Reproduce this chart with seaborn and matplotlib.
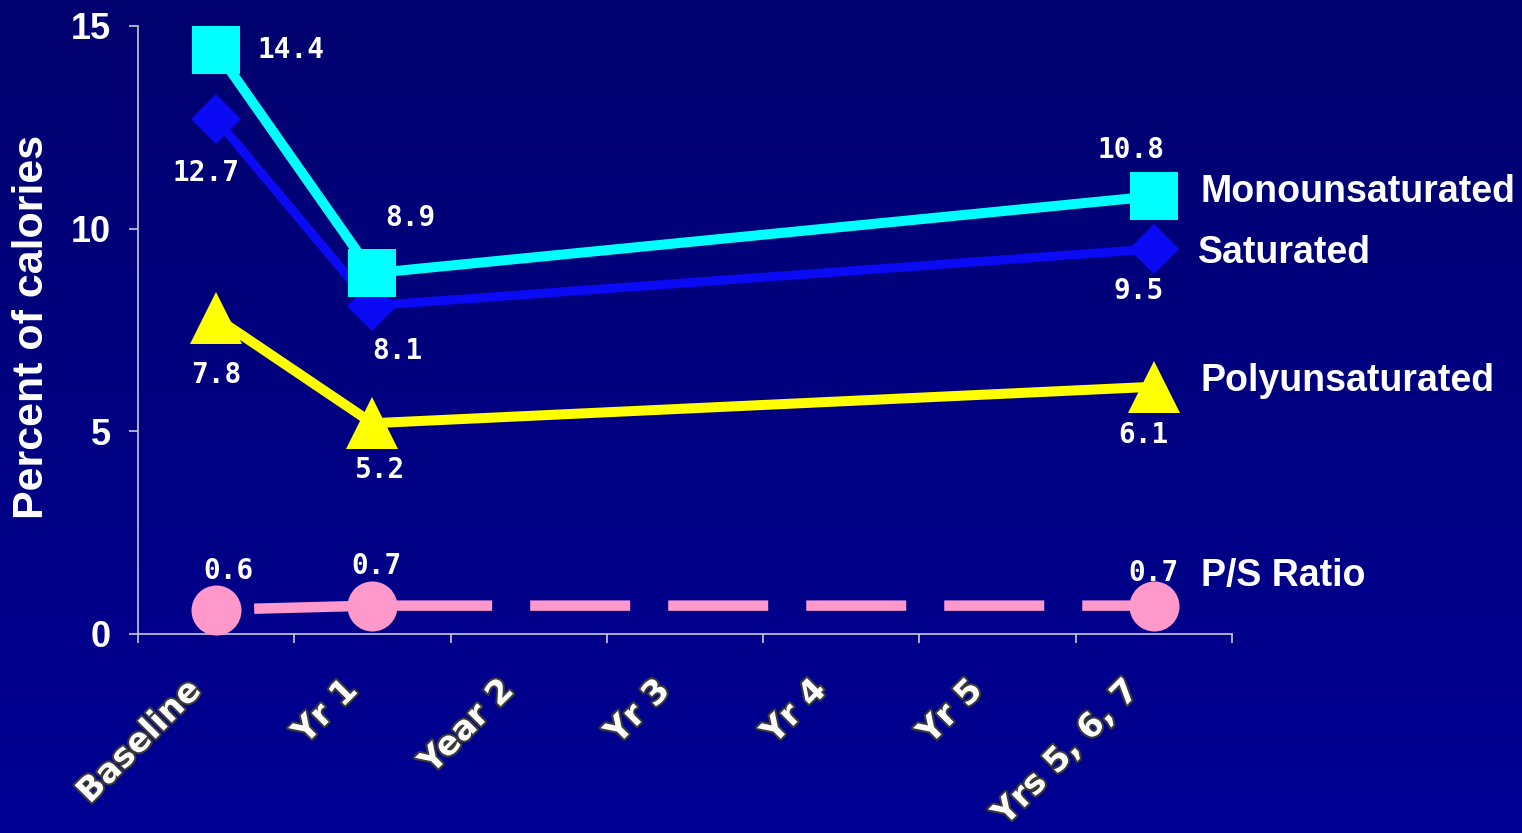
import numpy as np
import pandas as pd
import matplotlib
matplotlib.use("Agg")
import matplotlib.pyplot as plt
import matplotlib.patheffects as pe
from matplotlib.colors import LinearSegmentedColormap
from matplotlib.transforms import ScaledTranslation
import seaborn as sns

# ---- data -------------------------------------------------------------
periods = ["Baseline", "Yr 1", "Year 2", "Yr 3", "Yr 4", "Yr 5", "Yrs 5, 6, 7"]
measured_at = ["Baseline", "Yr 1", "Yrs 5, 6, 7"]
monounsaturated = [14.4, 8.9, 10.8]
saturated = [12.7, 8.1, 9.5]
polyunsaturated = [7.8, 5.2, 6.1]
ps_ratio = [0.6, 0.7, 0.7]
y_ticks = [0, 5, 10, 15]

series_values = {
    "P/S Ratio": ps_ratio,
    "Polyunsaturated": polyunsaturated,
    "Saturated": saturated,
    "Monounsaturated": monounsaturated,
}

rows = []
for name, vals in series_values.items():
    for period, v in zip(measured_at, vals):
        rows.append({"series": name, "period": period,
                     "pos": periods.index(period), "value": v})
df = pd.DataFrame(rows)

# ---- styling ----------------------------------------------------------
PX = 0.72  # points per pixel at 100 dpi

styles = {
    "P/S Ratio": dict(color="#FF99CC", marker="o", ms=36, lw=7.5,
                      ls=(9.6, (9.6, 3.65)), z=3,
                      offsets=[(12, -39), (4, -40), (0, -33)],
                      name_off=(47, -30)),
    "Polyunsaturated": dict(color="#FFFF00", marker="^", ms=37, lw=7.2,
                            ls="-", z=4,
                            offsets=[(0, 57), (7, 47), (-10, 48)],
                            name_off=(47, -6)),
    "Saturated": dict(color="#0A0AF5", marker="D", ms=25, lw=6.5,
                      ls="-", z=5,
                      offsets=[(-10, 54), (25, 45), (-15, 42)],
                      name_off=(44, 4)),
    "Monounsaturated": dict(color="#00FFFF", marker="s", ms=34, lw=7.2,
                            ls="-", z=6,
                            offsets=[(75, 0), (38, -55), (-23, -46)],
                            name_off=(47, -4)),
}

plt.rcParams["font.family"] = ["Liberation Sans", "DejaVu Sans"]
plt.rcParams["font.weight"] = "bold"

fig = plt.figure(figsize=(15.22, 8.33), dpi=100)

# navy gradient backdrop
bg = fig.add_axes([0, 0, 1, 1], zorder=-10)
grad = np.linspace(0, 1, 256).reshape(-1, 1)
cmap = LinearSegmentedColormap.from_list("navy", ["#00006E", "#000094"])
bg.imshow(grad, aspect="auto", cmap=cmap, extent=[0, 1, 0, 1], origin="upper")
bg.set_axis_off()

ax = fig.add_axes([0.0907, 0.2389, 0.7187, 0.7299])
ax.set_facecolor("none")

for name, st in styles.items():
    sub = df[df["series"] == name]
    sns.lineplot(data=sub, x="pos", y="value", ax=ax, color=st["color"],
                 marker=st["marker"], markersize=st["ms"],
                 linewidth=st["lw"], linestyle=st["ls"],
                 markeredgewidth=0, legend=False, zorder=st["z"],
                 clip_on=False)
    for (dx, dy), p, v in zip(st["offsets"], sub["pos"], sub["value"]):
        ax.annotate(f"{v:.1f}", xy=(p, v), xytext=(dx * PX, -dy * PX),
                    textcoords="offset points", ha="center", va="center",
                    color="white", fontsize=20, fontweight="bold",
                    family="DejaVu Sans Mono", zorder=10,
                    annotation_clip=False)
    nx, ny = st["name_off"]
    ax.annotate(name, xy=(sub["pos"].iloc[-1], sub["value"].iloc[-1]),
                xytext=(nx * PX, -ny * PX), textcoords="offset points",
                ha="left", va="center", color="white", fontsize=27,
                fontweight="bold", annotation_clip=False, zorder=10)

# axes, ticks and labels
ax.set_xlim(-0.5, len(periods) - 0.5)
ax.set_ylim(0, 15)
for side in ("top", "right"):
    ax.spines[side].set_visible(False)
for side in ("left", "bottom"):
    ax.spines[side].set_color("#C8C8DC")
    ax.spines[side].set_linewidth(1.2)

ax.set_yticks(y_ticks)
ax.set_yticklabels([str(t) for t in y_ticks], fontsize=26, fontweight="bold",
                   color="white")
ax.tick_params(axis="y", length=6.5, width=1.2, color="#C8C8DC", pad=13)

ax.set_xticks(range(len(periods)))
ax.set_xticks(np.arange(-0.5, len(periods), 1.0), minor=True)
ax.tick_params(axis="x", which="major", length=0, pad=24)
ax.tick_params(axis="x", which="minor", length=6.5, width=1.2,
               color="#C8C8DC")
ax.set_xticklabels(periods, rotation=45, ha="right", rotation_mode="anchor",
                   fontsize=24, fontweight="bold", color="white",
                   family="DejaVu Sans")
shift = ScaledTranslation(-0.32, -0.06, fig.dpi_scale_trans)
for lbl in ax.get_xticklabels():
    lbl.set_path_effects([pe.withStroke(linewidth=3, foreground="#3A3A3A")])
    lbl.set_transform(lbl.get_transform() + shift)

ax.set_xlabel("")
ax.set_ylabel("Percent of calories", fontsize=31, fontweight="bold",
              color="white")
ax.yaxis.set_label_coords(-0.097, 0.505)
ax.yaxis.label.set_va("center")

fig.savefig("out.png", dpi=100, facecolor=fig.get_facecolor())
